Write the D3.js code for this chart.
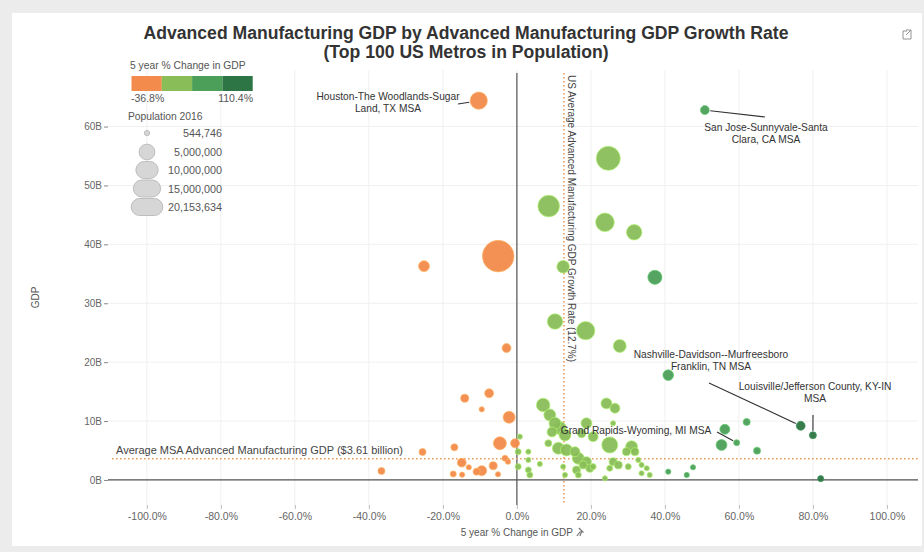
<!DOCTYPE html>
<html>
<head>
<meta charset="utf-8">
<script src="https://cdn.jsdelivr.net/npm/d3@7"></script>
<style>
  html, body { margin: 0; padding: 0; background: #ececec; }
  svg { display: block; font-family: "Liberation Sans", Arial, sans-serif; }
</style>
</head>
<body>
<svg id="chart" width="924" height="552"></svg>
<script>
// ---------------- DATA ----------------
// 5 year % change in advanced manufacturing GDP
const pctChange = [
  -10.3, 50.8, 24.7, 8.6, 23.8, 31.7, -5.05, -25.1, 12.5, 37.3, 10.3, 18.6, 27.8, -2.8,
  40.9, 76.7, 80.0, 56.2, 62.1, 55.3, 59.4, 64.9, 47.6, 40.9, 45.9, 82.1,
  -14.1, -7.5, -9.5, -2.1, -4.6, -0.5, -16.9, -25.5, -3.2, -2.4, -14.9, -13.0, -6.4, -9.5,
  -10.9, -17.2, -14.8, -5.1, -36.6,
  7.1, 8.9, 10.3, 11.6, 13.0, 11.2, 13.4, 15.7, 16.6, 18.8, 19.7, 16.6, 24.2, 26.5, 18.8,
  20.6, 17.5, 25.1, 31.0, 31.9, 29.6, 26.0, 8.5, 6.2, 3.1, 3.1, 0.35, 0.35, 3.1, 3.5, 0.8,
  12.5, 13.0, 26.0, 27.4, 30.1, 33.7, 35.1, 33.7, 35.9, 23.8, 25.1, 32.8, 17.9, 16.1, 20.6, 9.5
];
// Advanced manufacturing GDP, billions of dollars
const gdpBillions = [
  64.4, 62.8, 54.6, 46.5, 43.75, 42.05, 38.0, 36.3, 36.2, 34.4, 26.9, 25.35, 22.75, 22.4,
  17.8, 9.2, 7.6, 8.6, 9.85, 5.94, 6.33, 4.97, 2.16, 1.41, 0.85, 0.22,
  13.87, 14.72, 12.0, 10.65, 6.23, 6.23, 5.55, 4.75, 3.68, 3.1, 2.94, 2.16, 2.43, 1.58,
  1.41, 1.02, 0.9, 0.97, 1.53,
  12.73, 11.04, 9.63, 8.83, 7.64, 5.38, 5.09, 4.8, 3.68, 3.1, 1.99, 0.85, 13.0, 12.17, 9.63,
  7.35, 7.93, 5.94, 5.65, 4.8, 4.8, 9.63, 6.23, 2.72, 4.8, 3.4, 4.8, 2.26, 1.7, 0.85, 7.35,
  2.26, 0.85, 3.1, 2.55, 2.26, 2.55, 1.99, 1.14, 0.85, 0.29, 1.99, 3.4, 2.55, 1.7, 2.26, 8.15
];
// Population 2016
const population = [
  6000000, 1600000, 11600000, 9400000, 7000000, 4800000, 20153634, 2400000, 3200000, 4000000,
  4800000, 6800000, 3400000, 1600000,
  2300000, 1600000, 1000000, 2000000, 1000000, 2400000, 750000, 1000000, 550000, 550000, 550000, 750000,
  1300000, 1600000, 550000, 2900000, 3400000, 1600000, 1000000, 1000000, 750000, 550000, 1600000,
  550000, 1300000, 2000000, 1000000, 750000, 550000, 550000, 1000000,
  3700000, 2900000, 2900000, 3400000, 2900000, 2900000, 2900000, 2000000, 2900000, 2000000,
  1300000, 750000, 2400000, 2000000, 2400000, 2000000, 1600000, 5200000, 2900000, 1300000,
  1300000, 550000, 1000000, 550000, 550000, 550000, 750000, 750000, 750000, 750000, 550000,
  550000, 550000, 1300000, 1300000, 750000, 550000, 550000, 550000, 550000, 550000, 750000,
  550000, 1300000, 1300000, 750000, 2000000
];

const xTicks = [-100, -80, -60, -40, -20, 0, 20, 40, 60, 80, 100];
const yTicks = [0, 10, 20, 30, 40, 50, 60];
const colorBreaks = [0, 36.8, 73.6];
const colorRange = ["#f28b4c", "#89bd58", "#4c9f59", "#2d7545"];
const legendColorEnds = ["-36.8%", "110.4%"];
const sizeLegendValues = [544746, 5000000, 10000000, 15000000, 20153634];
const avgGrowth = 12.7;
const avgGdp = 3.61;

const annotations = [
  {lines: ["Houston-The Woodlands-Sugar", "Land, TX MSA"], px: -10.3, gy: 64.4, tx: 388, ty: 100, lx1: 458, ly1: 104},
  {lines: ["San Jose-Sunnyvale-Santa", "Clara, CA MSA"], px: 50.8, gy: 62.8, tx: 766, ty: 131, lx1: 765, ly1: 117},
  {lines: ["Nashville-Davidson--Murfreesboro", "Franklin, TN MSA"], px: 76.7, gy: 9.2, tx: 711, ty: 358, lx1: 709, ly1: 383},
  {lines: ["Louisville/Jefferson County, KY-IN", "MSA"], px: 80.0, gy: 7.6, tx: 815, ty: 390, lx1: 813, ly1: 415},
  {lines: ["Grand Rapids-Wyoming, MI MSA"], px: 59.4, gy: 6.33, tx: 636, ty: 434, lx1: 717, ly1: 432}
];

// ---------------- LAYOUT ----------------
const svg = d3.select("#chart");
const plot = {left: 108, right: 918, top: 70, bottom: 505};

svg.append("rect").attr("x", 12).attr("y", 13).attr("width", 910).attr("height", 533)
  .attr("fill", "#fff");

const x = d3.scaleLinear().domain([-110.5, 108.4]).range([plot.left, plot.right]);
const y = d3.scaleLinear().domain([-4.25, 69.6]).range([plot.bottom, plot.top]);
const color = d3.scaleThreshold().domain(colorBreaks).range(colorRange);
const r = d3.scaleSqrt().domain([0, 20153634]).range([0, 15.8]);

// gridlines
const grid = svg.append("g");
grid.selectAll("line.vg").data(xTicks).join("line")
  .attr("x1", d => x(d)).attr("x2", d => x(d))
  .attr("y1", plot.top).attr("y2", plot.bottom)
  .attr("stroke", "#f0f0f0").attr("stroke-width", 1);
grid.selectAll("line.hg").data(yTicks).join("line")
  .attr("x1", plot.left).attr("x2", plot.right)
  .attr("y1", d => y(d)).attr("y2", d => y(d))
  .attr("stroke", "#f0f0f0").attr("stroke-width", 1);

// axes
const xAxis = d3.axisBottom(x).tickValues(xTicks).tickSize(4).tickPadding(4)
  .tickFormat(d => d.toFixed(1) + "%");
const gx = svg.append("g").attr("transform", `translate(0,${plot.bottom})`).call(xAxis);
gx.select(".domain").remove();
gx.selectAll(".tick line").attr("stroke", "#bbb");
gx.selectAll("text").attr("fill", "#666").style("font-size", "10.5px");

const yAxis = d3.axisLeft(y).tickValues(yTicks).tickSize(4).tickPadding(2)
  .tickFormat(d => d + "B");
const gy = svg.append("g").attr("transform", `translate(${plot.left},0)`).call(yAxis);
gy.select(".domain").remove();
gy.selectAll(".tick line").attr("stroke", "#888");
gy.selectAll("text").attr("fill", "#666").style("font-size", "10px");

// zero lines
svg.append("line").attr("x1", x(0)).attr("x2", x(0)).attr("y1", plot.top + 3).attr("y2", plot.bottom)
  .attr("stroke", "#555").attr("stroke-width", 1.2);
svg.append("line").attr("x1", plot.left).attr("x2", plot.right).attr("y1", y(0)).attr("y2", y(0))
  .attr("stroke", "#555").attr("stroke-width", 1.2);

// axis titles
svg.append("text").attr("x", x(0)).attr("y", 536).attr("text-anchor", "middle")
  .attr("fill", "#555").style("font-size", "10px").text("5 year % Change in GDP");
// pin icon
svg.append("path").attr("d", `M${x(0)+62},${528} l4,4 l-3,0 l-3,4 M${x(0)+65},${531} l-2,5`)
  .attr("stroke", "#777").attr("fill", "none").attr("stroke-width", 1.2);
svg.append("text").attr("transform", `translate(39,${y(31)}) rotate(-90)`).attr("text-anchor", "middle")
  .attr("fill", "#555").style("font-size", "10px").text("GDP");

// reference lines
const refColor = "#e8a062";
svg.append("line").attr("x1", x(avgGrowth)).attr("x2", x(avgGrowth)).attr("y1", plot.top + 3).attr("y2", plot.bottom)
  .attr("stroke", refColor).attr("stroke-width", 1.6).attr("stroke-dasharray", "1.6,2.4");
svg.append("line").attr("x1", plot.left + 4).attr("x2", plot.right).attr("y1", y(avgGdp)).attr("y2", y(avgGdp))
  .attr("stroke", refColor).attr("stroke-width", 1.6).attr("stroke-dasharray", "1.6,2.4");
svg.append("text").attr("transform", `translate(${x(avgGrowth) + 4},${plot.top + 5}) rotate(90)`)
  .attr("fill", "#444").style("font-size", "10px")
  .text(`US Average Advanced Manufacturing GDP Growth Rate (${avgGrowth}%)`);
svg.append("text").attr("x", 116).attr("y", y(avgGdp) - 5)
  .attr("fill", "#444").style("font-size", "11px")
  .text(`Average MSA Advanced Manufacturing GDP ($${avgGdp} billion)`);

// points
const pts = pctChange.map((p, i) => ({p, g: gdpBillions[i], pop: population[i]}))
  .sort((a, b) => b.pop - a.pop);
svg.append("g").selectAll("circle").data(pts).join("circle")
  .attr("cx", d => x(d.p)).attr("cy", d => y(d.g)).attr("r", d => r(d.pop))
  .attr("fill", d => color(d.p)).attr("fill-opacity", 0.95)
  .attr("stroke", d => d3.color(color(d.p)).brighter(0.7)).attr("stroke-opacity", 0.7).attr("stroke-width", 1);

// annotations
const ann = svg.append("g");
annotations.forEach(a => {
  const cx = x(a.px), cy = y(a.gy);
  const dx = a.lx1 - cx, dy = a.ly1 - cy, L = Math.hypot(dx, dy);
  const rr = r(population[pctChange.indexOf(a.px)]) + 1;
  ann.append("line").attr("x1", a.lx1).attr("y1", a.ly1)
    .attr("x2", cx + dx / L * rr).attr("y2", cy + dy / L * rr)
    .attr("stroke", "#333").attr("stroke-width", 1.1);
  const t = ann.append("text").attr("text-anchor", "middle").attr("fill", "#333").style("font-size", "10.2px");
  a.lines.forEach((ln, k) => t.append("tspan").attr("x", a.tx).attr("y", a.ty + k * 12).text(ln));
});

// title
svg.append("text").attr("x", 466).attr("y", 39).attr("text-anchor", "middle")
  .attr("fill", "#333").style("font-size", "17.6px").style("font-weight", "bold")
  .text("Advanced Manufacturing GDP by Advanced Manufacturing GDP Growth Rate");
svg.append("text").attr("x", 466).attr("y", 58).attr("text-anchor", "middle")
  .attr("fill", "#333").style("font-size", "17.6px").style("font-weight", "bold")
  .text("(Top 100 US Metros in Population)");
// external icon
svg.append("path").attr("d", "M907,31 h-4 v8 h8 v-4 M906,30 h5 v5 M911,30 l-5,5")
  .attr("stroke", "#888").attr("fill", "none").attr("stroke-width", 0.9);

// color legend
const leg = svg.append("g");
leg.append("text").attr("x", 130).attr("y", 69).attr("fill", "#555").style("font-size", "10.3px")
  .text("5 year % Change in GDP");
const boxW = 30.3;
leg.selectAll("rect.c").data(colorRange).join("rect")
  .attr("x", (d, i) => 131.5 + i * boxW).attr("y", 76).attr("width", boxW).attr("height", 15)
  .attr("fill", d => d);
leg.append("text").attr("x", 131).attr("y", 102).attr("fill", "#555").style("font-size", "10.5px").text(legendColorEnds[0]);
leg.append("text").attr("x", 253).attr("y", 102).attr("text-anchor", "end").attr("fill", "#555").style("font-size", "10.5px").text(legendColorEnds[1]);

// size legend
leg.append("text").attr("x", 128).attr("y", 120).attr("fill", "#555").style("font-size", "10.3px").text("Population 2016");
const sizeRows = [133, 152, 170, 188.5, 207];
sizeLegendValues.forEach((v, i) => {
  const rr = r(v), ry = Math.min(rr, 8.5);
  leg.append("rect").attr("x", 147 - rr).attr("y", sizeRows[i] - ry).attr("width", 2 * rr).attr("height", 2 * ry)
    .attr("rx", Math.min(rr, ry)).attr("fill", "#d6d6d6").attr("stroke", "#bdbdbd").attr("stroke-width", 1);
  leg.append("text").attr("x", 222).attr("y", sizeRows[i] + 4).attr("text-anchor", "end")
    .attr("fill", "#555").style("font-size", "10.8px").text(d3.format(",")(v));
});
</script>
</body>
</html>
